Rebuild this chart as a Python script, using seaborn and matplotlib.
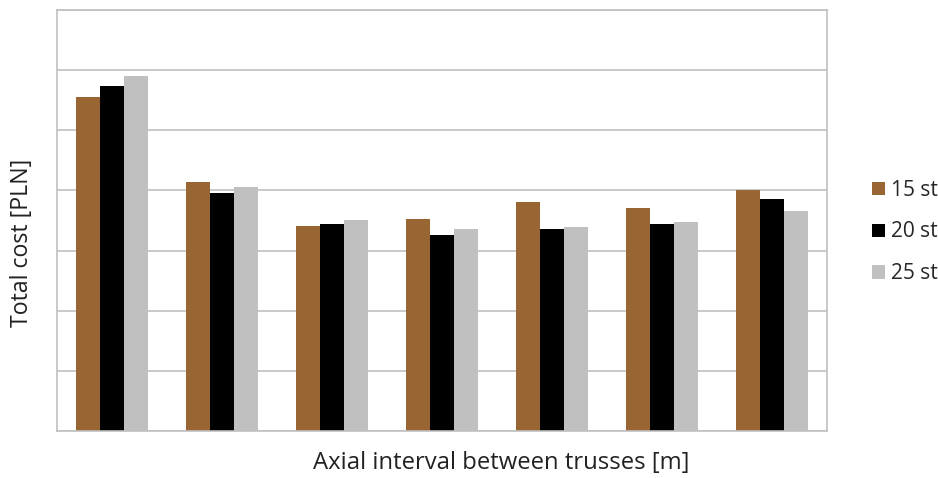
import matplotlib
matplotlib.use("Agg")
import matplotlib.pyplot as plt
import seaborn as sns
import pandas as pd
from matplotlib.patches import Patch

categories = ["1", "2", "3", "4", "5", "6", "7"]
series_names = ["15 st", "20 st", "25 st"]
s15 = [5.56, 4.14, 3.41, 3.53, 3.81, 3.71, 4.01]
s20 = [5.74, 3.96, 3.44, 3.26, 3.36, 3.44, 3.86]
s25 = [5.91, 4.06, 3.51, 3.36, 3.39, 3.48, 3.66]
colors = ["#996633", "#000000", "#c0c0c0"]

rows = []
for name, vals in zip(series_names, [s15, s20, s25]):
    for c, v in zip(categories, vals):
        rows.append({"cat": c, "series": name, "value": v})
df = pd.DataFrame(rows)

sns.set_theme(style="white")
plt.rcParams["font.family"] = ["Open Sans", "DejaVu Sans"]

fig = plt.figure(figsize=(9.38, 4.78), dpi=100)
ax = fig.add_axes([57/938, 1 - 431/478, 770/938, 421/478])

sns.barplot(data=df, x="cat", y="value", hue="series", palette=colors,
            width=0.66, gap=0, saturation=1, ax=ax, legend=False,
            edgecolor="none", linewidth=0)

ax.set_ylim(0, 7)
ax.set_xlim(-0.5, 6.5)
ax.set_yticks(range(0, 8))
ax.yaxis.grid(True, color="#c0c0c0", linewidth=1.2)
ax.set_axisbelow(True)
ax.set_xticks([])
ax.set_yticklabels([])
ax.tick_params(left=False, bottom=False)
for sp in ax.spines.values():
    sp.set_color("#c0c0c0")
    sp.set_linewidth(1.2)
ax.set_xlabel("")
ax.set_ylabel("")

fig.text(22/938, 1 - 243/478, "Total cost [PLN]", rotation=90, ha="center",
         va="center", fontsize=16.7, color="#222222")
fig.text(501/938, 1 - 463/478, "Axial interval between trusses [m]",
         ha="center", va="center", fontsize=17.2, color="#222222")

handles = [Patch(facecolor=c, edgecolor="none") for c in colors]
leg = fig.legend(handles, series_names, loc="center left",
                 bbox_to_anchor=(864/938, 1 - 232/478), frameon=False,
                 fontsize=15, handlelength=0.6, handleheight=0.6,
                 handletextpad=0.3, labelspacing=1.0, borderaxespad=0)

fig.savefig("out.png", dpi=100)
